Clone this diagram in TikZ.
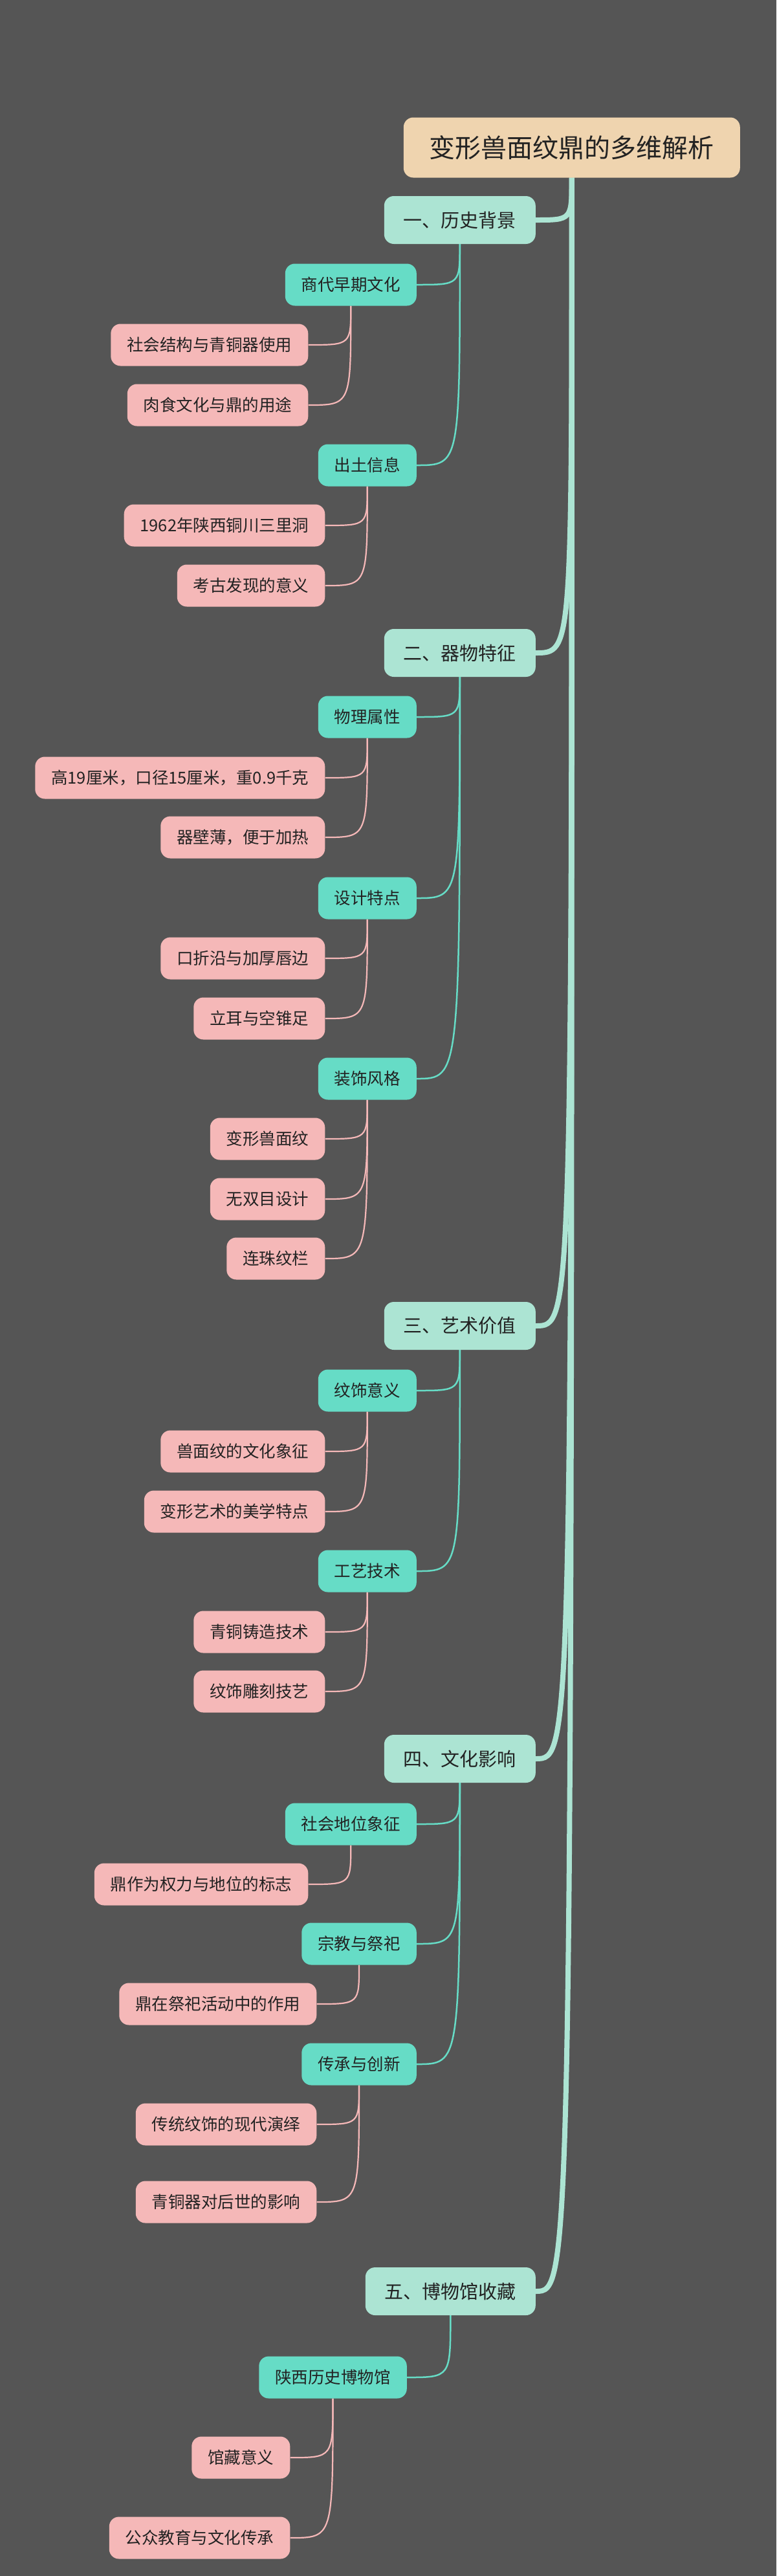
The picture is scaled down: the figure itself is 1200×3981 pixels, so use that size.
\documentclass[tikz,border=0pt]{standalone}
\usepackage{fontspec}
\setmainfont{Noto Sans CJK SC}
\usetikzlibrary{backgrounds}
\definecolor{bg}{HTML}{555555}
\definecolor{rootc}{HTML}{EFD4AF}
\definecolor{lonec}{HTML}{ACE4D3}
\definecolor{ltwoc}{HTML}{66DCC6}
\definecolor{lthreec}{HTML}{F5B8B8}
\definecolor{txt}{HTML}{222222}
\tikzset{
  box/.style={rounded corners=15pt, anchor=east, text=txt, inner ysep=0pt},
  rootbox/.style={box, fill=rootc, font=\fontsize{40}{44}\selectfont, inner xsep=40pt, minimum height=93pt},
  onebox/.style={box, fill=lonec, font=\fontsize{29}{33}\selectfont, inner xsep=30pt, minimum height=74pt},
  twobox/.style={box, fill=ltwoc, font=\fontsize{25.5}{30}\selectfont, inner xsep=25pt, minimum height=65pt},
  threebox/.style={box, fill=lthreec, font=\fontsize{25.5}{30}\selectfont, inner xsep=25pt, minimum height=65pt},
  lk/.style={line width=8pt, draw=lonec},
  lt/.style={line width=2.5pt, draw=ltwoc},
  lh/.style={line width=2.2pt, draw=lthreec},
}
\newcommand{\cn}[3]{\draw[#1] (#2.south) .. controls (#2.south |- #3.east) .. (#3.east);}
\begin{document}
\begin{tikzpicture}[x=1pt,y=-1pt]
\useasboundingbox (0,0) rectangle (1200,3981);
\node[rootbox] (r) at (1144,228) {变形兽面纹鼎的多维解析};
\node[onebox] (a) at (828,340) {一、历史背景};
\node[twobox] (a1) at (644,440) {商代早期文化};
\node[threebox] (a11) at (476.5,533) {社会结构与青铜器使用};
\node[threebox] (a12) at (476.5,626) {肉食文化与鼎的用途};
\node[twobox] (a2) at (644,719) {出土信息};
\node[threebox] (a21) at (502.5,812) {1962年陕西铜川三里洞};
\node[threebox] (a22) at (502.5,905) {考古发现的意义};
\node[onebox] (b) at (828,1009) {二、器物特征};
\node[twobox] (b1) at (644,1108) {物理属性};
\node[threebox] (b11) at (502.5,1202) {高19厘米，口径15厘米，重0.9千克};
\node[threebox] (b12) at (502.5,1294) {器壁薄，便于加热};
\node[twobox] (b2) at (644,1388) {设计特点};
\node[threebox] (b21) at (502.5,1481) {口折沿与加厚唇边};
\node[threebox] (b22) at (502.5,1574) {立耳与空锥足};
\node[twobox] (b3) at (644,1667) {装饰风格};
\node[threebox] (b31) at (502.5,1760) {变形兽面纹};
\node[threebox] (b32) at (502.5,1853) {无双目设计};
\node[threebox] (b33) at (502.5,1945) {连珠纹栏};
\node[onebox] (c) at (828,2049) {三、艺术价值};
\node[twobox] (c1) at (644,2149) {纹饰意义};
\node[threebox] (c11) at (502.5,2243) {兽面纹的文化象征};
\node[threebox] (c12) at (502.5,2336) {变形艺术的美学特点};
\node[twobox] (c2) at (644,2428) {工艺技术};
\node[threebox] (c21) at (502.5,2522) {青铜铸造技术};
\node[threebox] (c22) at (502.5,2614) {纹饰雕刻技艺};
\node[onebox] (d) at (828,2718) {四、文化影响};
\node[twobox] (d1) at (644,2819) {社会地位象征};
\node[threebox] (d11) at (476.5,2912) {鼎作为权力与地位的标志};
\node[twobox] (d2) at (644,3004) {宗教与祭祀};
\node[threebox] (d21) at (489.5,3097) {鼎在祭祀活动中的作用};
\node[twobox] (d3) at (644,3190) {传承与创新};
\node[threebox] (d31) at (489.5,3283) {传统纹饰的现代演绎};
\node[threebox] (d32) at (489.5,3403) {青铜器对后世的影响};
\node[onebox] (e) at (828,3541) {五、博物馆收藏};
\node[twobox] (e1) at (629,3674) {陕西历史博物馆};
\node[threebox] (e11) at (448.5,3798) {馆藏意义};
\node[threebox] (e12) at (448.5,3922) {公众教育与文化传承};
\begin{scope}[on background layer]
\fill[bg] (0,0) rectangle (1200,3981);
\foreach \c in {a,b,c,d,e} {\cn{lk}{r}{\c}}
\foreach \c in {a1,a2} {\cn{lt}{a}{\c}}
\foreach \c in {b1,b2,b3} {\cn{lt}{b}{\c}}
\foreach \c in {c1,c2} {\cn{lt}{c}{\c}}
\foreach \c in {d1,d2,d3} {\cn{lt}{d}{\c}}
\cn{lt}{e}{e1}
\foreach \c in {a11,a12} {\cn{lh}{a1}{\c}}
\foreach \c in {a21,a22} {\cn{lh}{a2}{\c}}
\foreach \c in {b11,b12} {\cn{lh}{b1}{\c}}
\foreach \c in {b21,b22} {\cn{lh}{b2}{\c}}
\foreach \c in {b31,b32,b33} {\cn{lh}{b3}{\c}}
\foreach \c in {c11,c12} {\cn{lh}{c1}{\c}}
\foreach \c in {c21,c22} {\cn{lh}{c2}{\c}}
\cn{lh}{d1}{d11}
\cn{lh}{d2}{d21}
\foreach \c in {d31,d32} {\cn{lh}{d3}{\c}}
\foreach \c in {e11,e12} {\cn{lh}{e1}{\c}}
\end{scope}
\end{tikzpicture}
\end{document}
